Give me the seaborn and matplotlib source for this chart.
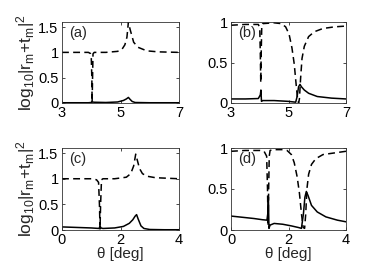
import numpy as np
import pandas as pd
import matplotlib
matplotlib.use("Agg")
import matplotlib.pyplot as plt
import seaborn as sns

# ---------------- data ----------------
a_dash_x = [3.0, 3.5, 3.9, 3.97, 4.0, 4.02, 4.03, 4.045, 4.06, 4.1, 4.5, 4.9, 5.05, 5.15, 5.22, 5.27, 5.33, 5.45, 5.6, 5.9, 6.3, 7.0]
a_dash_y = [1.0, 1.0, 1.0, 0.98, 0.92, 0.5, 0.02, 0.5, 0.97, 1.0, 1.0, 1.02, 1.06, 1.15, 1.3, 1.6, 1.45, 1.2, 1.1, 1.03, 1.01, 1.0]
a_sol_x = [3.0, 3.9, 4.0, 4.02, 4.04, 4.1, 4.5, 4.9, 5.1, 5.2, 5.27, 5.33, 5.4, 5.5, 6.0, 7.0]
a_sol_y = [0.005, 0.005, 0.01, 0.03, 0.02, 0.015, 0.01, 0.02, 0.05, 0.08, 0.11, 0.07, 0.03, 0.01, 0.005, 0.005]

b_dash_x = [3.0, 3.5, 3.95, 4.0, 4.02, 4.035, 4.05, 4.07, 4.1, 4.5, 4.75, 4.9, 5.02, 5.12, 5.2, 5.26, 5.31, 5.35, 5.38, 5.42, 5.47, 5.55, 5.7, 5.9, 6.2, 6.6, 7.0]
b_dash_y = [0.96, 0.97, 0.97, 0.93, 0.6, 0.25, 0.6, 0.95, 0.98, 0.99, 0.98, 0.94, 0.85, 0.68, 0.48, 0.25, 0.07, 0.0, 0.05, 0.3, 0.55, 0.7, 0.82, 0.88, 0.92, 0.94, 0.95]
b_sol_x = [3.0, 3.5, 3.95, 4.02, 4.04, 4.06, 4.1, 4.5, 5.0, 5.25, 5.3, 5.35, 5.4, 5.45, 5.55, 5.7, 6.0, 6.5, 7.0]
b_sol_y = [0.05, 0.05, 0.055, 0.1, 0.16, 0.02, 0.03, 0.03, 0.02, 0.01, 0.08, 0.2, 0.23, 0.2, 0.16, 0.12, 0.08, 0.06, 0.05]

c_dash_x = [0.0, 0.5, 1.0, 1.18, 1.25, 1.28, 1.3, 1.32, 1.35, 1.4, 1.8, 2.2, 2.35, 2.45, 2.52, 2.58, 2.65, 2.75, 2.9, 3.2, 3.6, 4.0]
c_dash_y = [1.0, 1.0, 1.0, 0.98, 0.93, 0.5, 0.02, 0.5, 0.98, 1.0, 1.0, 1.03, 1.1, 1.25, 1.48, 1.35, 1.2, 1.1, 1.05, 1.02, 1.01, 1.0]
c_sol_x = [0.0, 0.5, 1.0, 1.27, 1.3, 1.33, 1.4, 1.8, 2.1, 2.3, 2.42, 2.5, 2.55, 2.6, 2.7, 2.8, 3.0, 3.5, 4.0]
c_sol_y = [0.06, 0.05, 0.04, 0.03, 0.08, 0.04, 0.03, 0.04, 0.07, 0.13, 0.2, 0.27, 0.3, 0.22, 0.08, 0.03, 0.01, 0.005, 0.005]

d_dash_x = [0.0, 0.5, 1.0, 1.15, 1.24, 1.27, 1.29, 1.31, 1.33, 1.36, 1.45, 1.8, 1.95, 2.1, 2.2, 2.3, 2.38, 2.45, 2.51, 2.56, 2.6, 2.64, 2.7, 2.8, 2.95, 3.2, 3.6, 4.0]
d_dash_y = [0.96, 0.97, 0.97, 0.96, 0.9, 0.5, 0.05, 0.5, 0.9, 0.97, 0.98, 0.98, 0.97, 0.92, 0.82, 0.65, 0.45, 0.2, 0.03, 0.02, 0.2, 0.5, 0.68, 0.8, 0.87, 0.92, 0.94, 0.96]
d_sol_x = [0.0, 0.4, 0.8, 1.1, 1.25, 1.28, 1.3, 1.32, 1.36, 1.5, 1.8, 2.1, 2.35, 2.45, 2.52, 2.57, 2.62, 2.68, 2.8, 3.0, 3.3, 3.7, 4.0]
d_sol_y = [0.17, 0.155, 0.14, 0.125, 0.12, 0.2, 0.4, 0.02, 0.06, 0.08, 0.07, 0.05, 0.03, 0.02, 0.2, 0.4, 0.47, 0.42, 0.3, 0.22, 0.16, 0.12, 0.1]

panel_labels = ["(a)", "(b)", "(c)", "(d)"]
xlims = [(3, 7), (3, 7), (0, 4), (0, 4)]
xticks = [[3, 5, 7], [3, 5, 7], [0, 2, 4], [0, 2, 4]]
ylims = [(0, 1.6), (0, 1.0), (0, 1.6), (0, 1.0)]
yticks = [[0, 0.5, 1, 1.5], [0, 0.5, 1], [0, 0.5, 1, 1.5], [0, 0.5, 1]]
ytick_labels = [["0", "0.5", "1", "1.5"], ["0", "0.5", "1"], ["0", "0.5", "1", "1.5"], ["0", "0.5", "1"]]
ylabel_text = "log$_\\mathregular{10}$|r$_\\mathregular{m}$+t$_\\mathregular{m}$|$^\\mathregular{2}$"
xlabel_text = "θ [deg]"

# ---------------- style ----------------
sns.set_theme(style="white")
plt.rcParams["font.family"] = ["Liberation Sans", "DejaVu Sans"]
plt.rcParams["mathtext.fontset"] = "custom"
plt.rcParams["mathtext.rm"] = "Liberation Sans"
plt.rcParams["mathtext.it"] = "Liberation Sans:italic"

fig = plt.figure(figsize=(3.82, 2.69), dpi=100)
W, H = 382.0, 269.0
boxes = [
    (62, 22, 179, 103),
    (231, 22, 346, 103),
    (62, 148, 179, 230),
    (231, 148, 346, 230),
]
series = [
    (a_dash_x, a_dash_y, a_sol_x, a_sol_y),
    (b_dash_x, b_dash_y, b_sol_x, b_sol_y),
    (c_dash_x, c_dash_y, c_sol_x, c_sol_y),
    (d_dash_x, d_dash_y, d_sol_x, d_sol_y),
]

for i, (box, (dx, dy, sx, sy)) in enumerate(zip(boxes, series)):
    l, t, r, b = box
    ax = fig.add_axes([l / W, 1 - b / H, (r - l) / W, (b - t) / H])
    dfd = pd.DataFrame({"x": dx, "y": dy})
    dfs = pd.DataFrame({"x": sx, "y": sy})
    sns.lineplot(data=dfd, x="x", y="y", ax=ax, color="black", lw=1.1,
                 linestyle=(0, (4.5, 2.8)), estimator=None, sort=False)
    sns.lineplot(data=dfs, x="x", y="y", ax=ax, color="black", lw=1.1,
                 estimator=None, sort=False)
    ax.set_xlim(*xlims[i])
    ax.set_ylim(*ylims[i])
    ax.set_xticks(xticks[i])
    ax.set_xticklabels([str(v) for v in xticks[i]])
    ax.set_yticks(yticks[i])
    ax.set_yticklabels(ytick_labels[i])
    ax.tick_params(direction="in", length=2.5, width=0.5, labelsize=10.5,
                   colors="black", top=True, right=True,
                   bottom=True, left=True)
    ax.tick_params(axis="x", pad=2)
    ax.tick_params(axis="y", pad=2.5)
    for sp in ax.spines.values():
        sp.set_visible(True)
        sp.set_color("#333333")
        sp.set_linewidth(0.6)
    ax.set_xlabel(xlabel_text if i >= 2 else "", fontsize=11, labelpad=0)
    ax.set_ylabel(ylabel_text if i % 2 == 0 else "", fontsize=12.5, labelpad=1)
    ax.text(0.06, 0.86, panel_labels[i], transform=ax.transAxes,
            fontsize=10.5, ha="left", va="center")

fig.savefig("out.png", dpi=100)
